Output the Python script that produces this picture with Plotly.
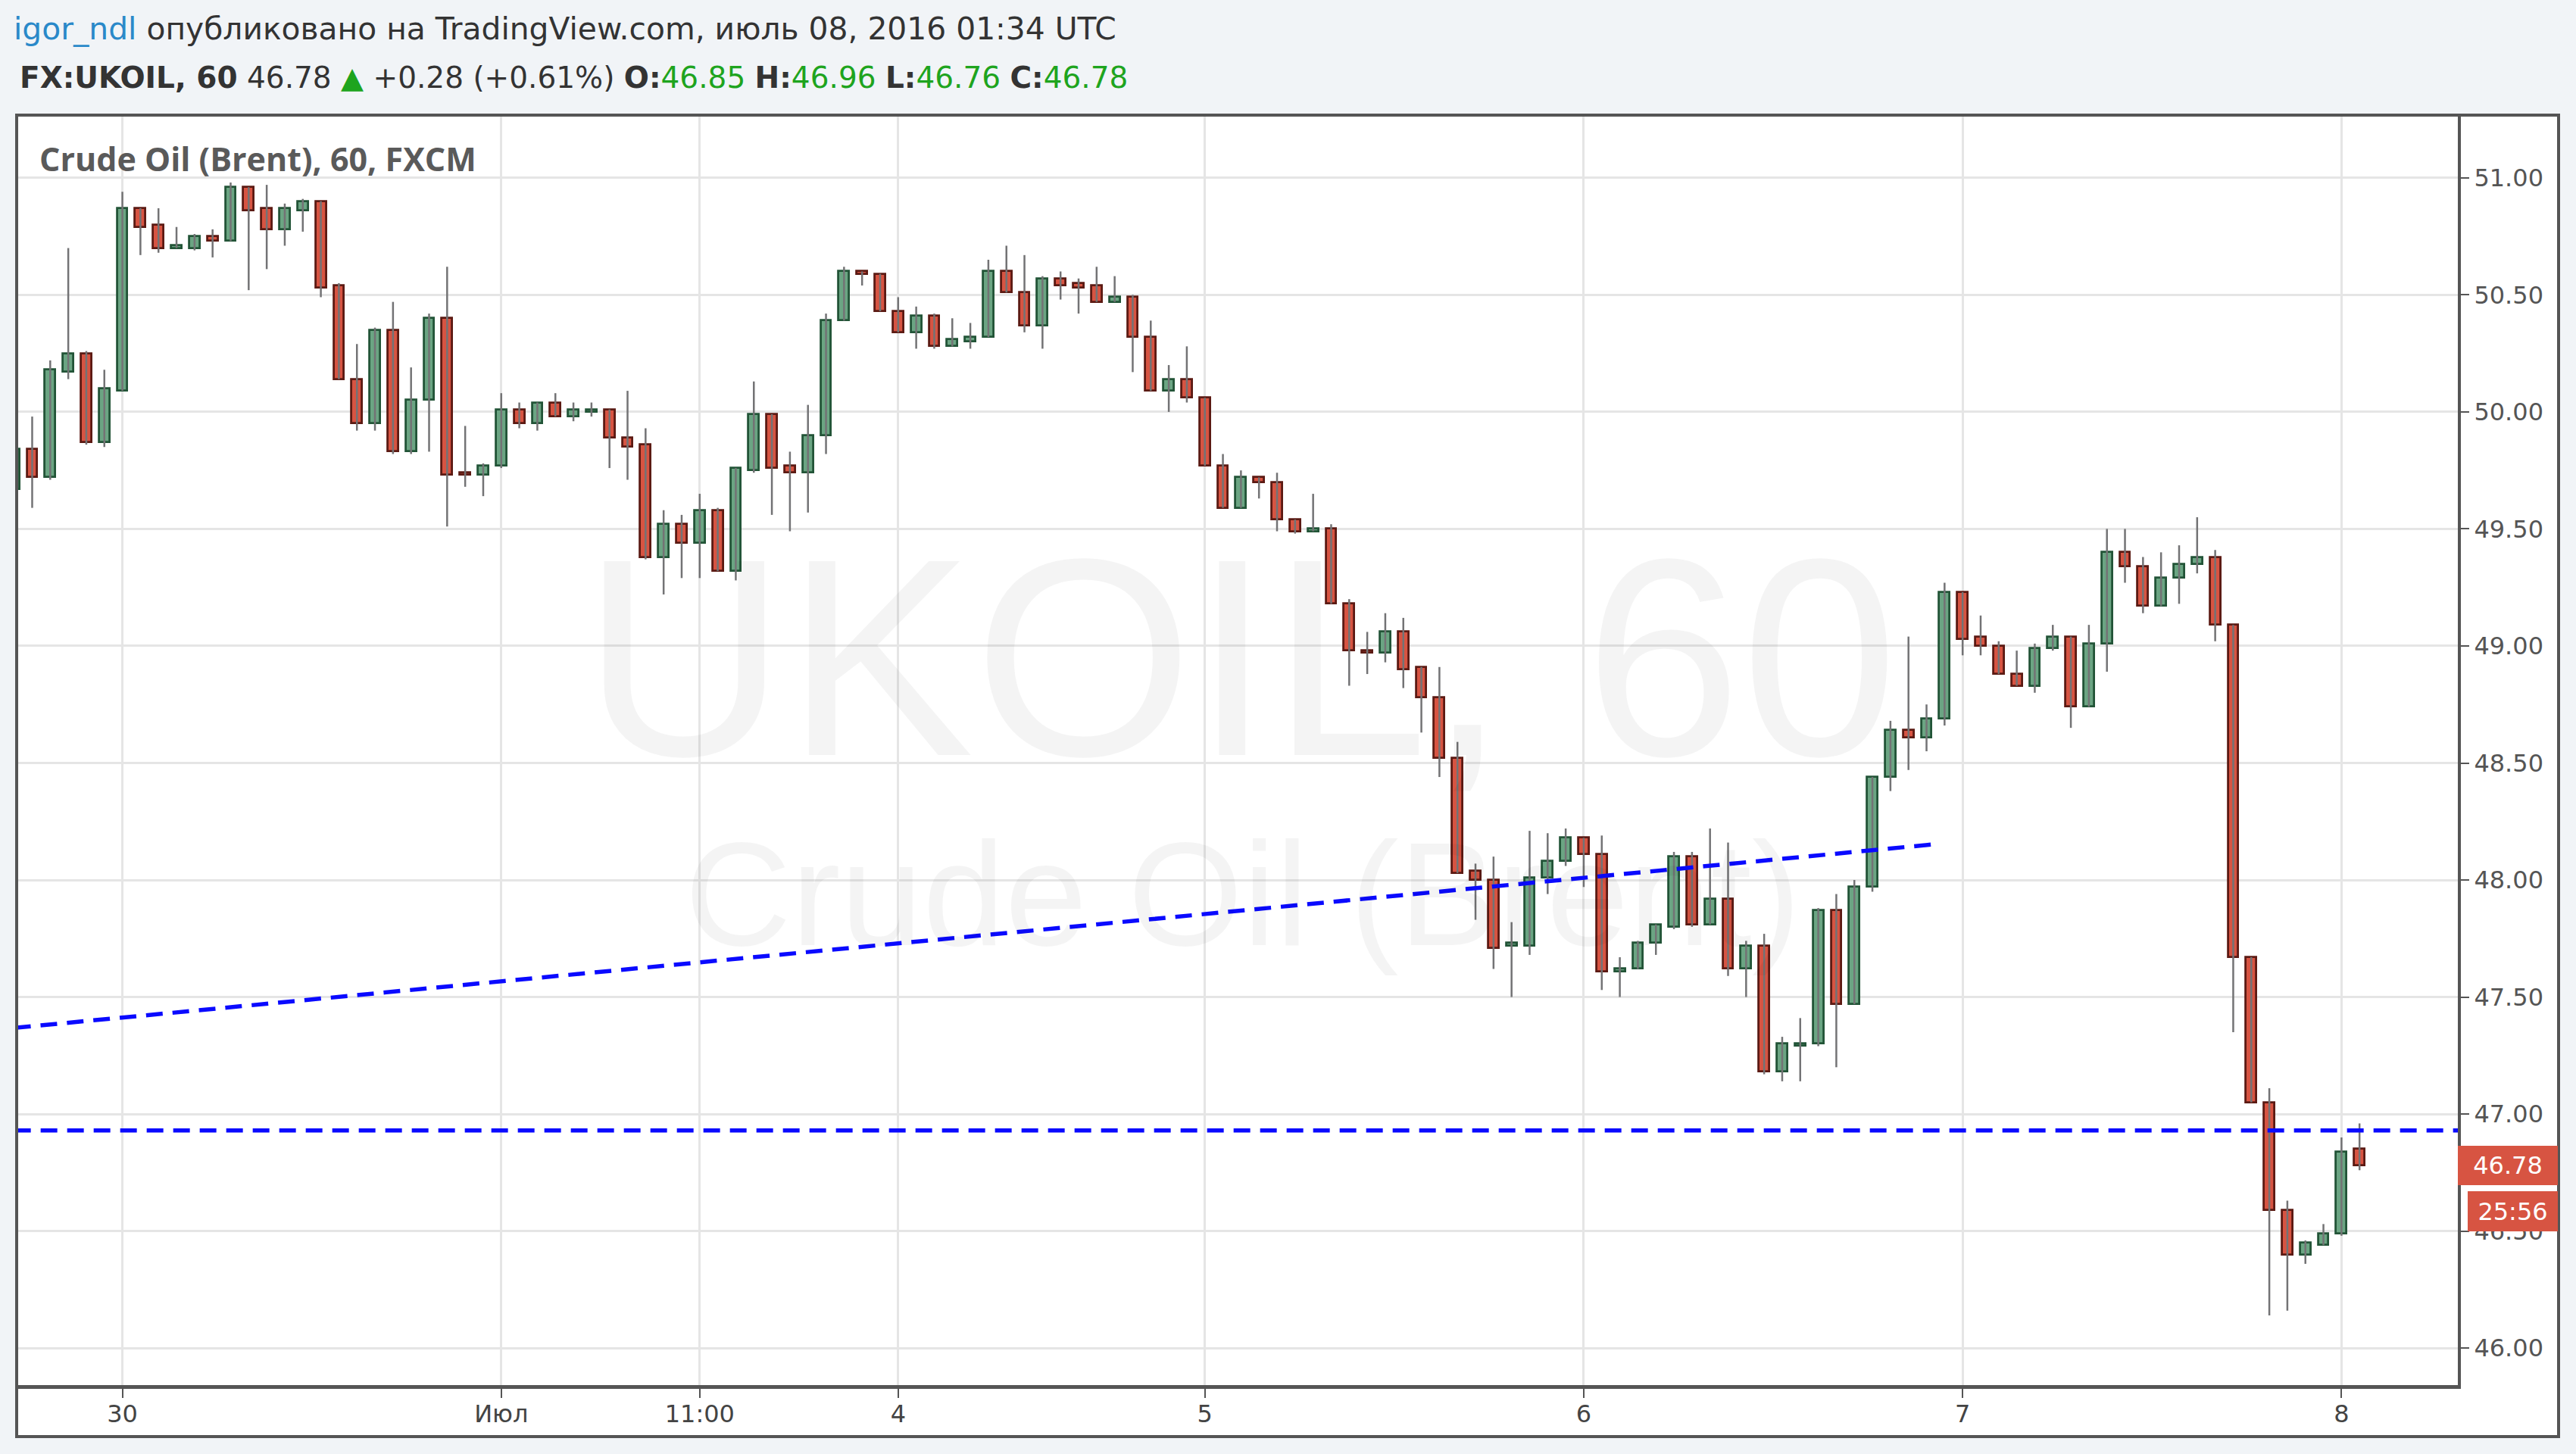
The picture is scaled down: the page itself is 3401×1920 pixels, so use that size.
import plotly.graph_objects as go

# ---------------- data (hourly bars, index 0..130) ----------------
opens = [
    49.67, 49.84, 49.72, 50.17, 50.25, 49.87, 50.09, 50.87, 50.80, 50.70,
    50.70, 50.75, 50.73, 50.96, 50.87, 50.78, 50.86, 50.90, 50.54, 50.14,
    49.95, 50.35, 49.83, 50.05, 50.40, 49.74, 49.73, 49.77, 50.01, 49.95,
    50.04, 49.98, 50.00, 50.01, 49.89, 49.86, 49.38, 49.52, 49.44, 49.58,
    49.32, 49.75, 49.99, 49.77, 49.74, 49.90, 50.39, 50.60, 50.59, 50.43,
    50.34, 50.41, 50.28, 50.30, 50.32, 50.60, 50.51, 50.37, 50.57, 50.55,
    50.54, 50.47, 50.49, 50.32, 50.09, 50.14, 50.06, 49.77, 49.59, 49.72,
    49.70, 49.54, 49.49, 49.50, 49.18, 48.98, 48.97, 49.06, 48.91, 48.78,
    48.52, 48.04, 48.00, 47.72, 47.72, 48.01, 48.08, 48.18, 48.11, 47.61,
    47.62, 47.73, 47.80, 48.10, 47.81, 47.92, 47.62, 47.72, 47.18, 47.29,
    47.30, 47.87, 47.47, 47.97, 48.44, 48.64, 48.61, 48.69, 49.23, 49.04,
    49.00, 48.88, 48.83, 48.99, 49.04, 48.74, 49.01, 49.40, 49.34, 49.17,
    49.29, 49.35, 49.38, 49.09, 47.67, 47.05, 46.59, 46.40, 46.44, 46.49,
    46.85]
highs = [
    49.86, 49.98, 50.22, 50.70, 50.26, 50.18, 50.94, 50.87, 50.87, 50.79,
    50.76, 50.78, 50.98, 50.96, 50.97, 50.89, 50.91, 50.90, 50.55, 50.29,
    50.36, 50.47, 50.19, 50.42, 50.62, 49.94, 49.78, 50.08, 50.04, 50.04,
    50.08, 50.04, 50.04, 50.01, 50.09, 49.93, 49.58, 49.56, 49.65, 49.59,
    49.76, 50.13, 49.99, 49.83, 50.03, 50.42, 50.62, 50.60, 50.59, 50.49,
    50.45, 50.42, 50.40, 50.38, 50.65, 50.71, 50.67, 50.58, 50.60, 50.57,
    50.62, 50.58, 50.50, 50.39, 50.20, 50.28, 50.06, 49.82, 49.75, 49.72,
    49.74, 49.54, 49.65, 49.52, 49.20, 49.06, 49.14, 49.12, 48.91, 48.91,
    48.59, 48.07, 48.10, 47.82, 48.21, 48.20, 48.22, 48.18, 48.19, 47.67,
    47.74, 47.81, 48.12, 48.12, 48.22, 48.16, 47.74, 47.77, 47.33, 47.41,
    47.88, 47.94, 48.00, 48.44, 48.68, 49.04, 48.75, 49.27, 49.23, 49.13,
    49.02, 48.98, 49.01, 49.09, 49.04, 49.09, 49.50, 49.50, 49.38, 49.40,
    49.43, 49.55, 49.41, 49.09, 47.67, 47.11, 46.63, 46.46, 46.53, 46.90,
    46.96]
lows = [
    49.62, 49.59, 49.71, 50.14, 49.86, 49.85, 50.09, 50.67, 50.68, 50.70,
    50.69, 50.66, 50.73, 50.52, 50.61, 50.71, 50.77, 50.49, 50.14, 49.92,
    49.92, 49.82, 49.82, 49.83, 49.51, 49.68, 49.64, 49.76, 49.93, 49.92,
    49.98, 49.96, 49.98, 49.76, 49.71, 49.37, 49.22, 49.29, 49.29, 49.32,
    49.28, 49.74, 49.56, 49.49, 49.57, 49.82, 50.39, 50.54, 50.43, 50.34,
    50.27, 50.27, 50.28, 50.27, 50.32, 50.51, 50.34, 50.27, 50.48, 50.42,
    50.47, 50.47, 50.17, 50.09, 50.00, 50.04, 49.77, 49.59, 49.59, 49.63,
    49.49, 49.48, 49.49, 49.18, 48.83, 48.88, 48.93, 48.82, 48.63, 48.44,
    48.03, 47.83, 47.62, 47.50, 47.68, 47.94, 48.06, 47.97, 47.53, 47.50,
    47.62, 47.68, 47.79, 47.80, 47.81, 47.59, 47.50, 47.17, 47.14, 47.14,
    47.29, 47.20, 47.47, 47.95, 48.38, 48.47, 48.55, 48.66, 48.96, 48.96,
    48.88, 48.83, 48.80, 48.98, 48.65, 48.74, 48.89, 49.27, 49.14, 49.17,
    49.18, 49.31, 49.02, 47.35, 47.05, 46.14, 46.16, 46.36, 46.44, 46.48,
    46.76]
closes = [
    49.84, 49.72, 50.18, 50.25, 49.87, 50.10, 50.87, 50.79, 50.70, 50.71,
    50.75, 50.73, 50.96, 50.86, 50.78, 50.87, 50.90, 50.53, 50.14, 49.95,
    50.35, 49.83, 50.05, 50.40, 49.73, 49.73, 49.77, 50.01, 49.95, 50.04,
    49.98, 50.01, 50.01, 49.89, 49.85, 49.38, 49.52, 49.44, 49.58, 49.32,
    49.76, 49.99, 49.76, 49.74, 49.90, 50.39, 50.60, 50.59, 50.43, 50.34,
    50.41, 50.28, 50.31, 50.32, 50.60, 50.51, 50.37, 50.57, 50.54, 50.53,
    50.47, 50.49, 50.32, 50.09, 50.14, 50.06, 49.77, 49.59, 49.72, 49.70,
    49.54, 49.49, 49.50, 49.18, 48.98, 48.97, 49.06, 48.90, 48.78, 48.52,
    48.03, 48.00, 47.71, 47.73, 48.01, 48.08, 48.18, 48.11, 47.61, 47.62,
    47.73, 47.81, 48.10, 47.81, 47.92, 47.62, 47.72, 47.18, 47.30, 47.30,
    47.87, 47.47, 47.97, 48.44, 48.64, 48.61, 48.69, 49.23, 49.03, 49.00,
    48.88, 48.83, 48.99, 49.04, 48.74, 49.01, 49.40, 49.34, 49.17, 49.29,
    49.35, 49.38, 49.09, 47.67, 47.05, 46.59, 46.40, 46.45, 46.49, 46.84,
    46.78]
assert len(opens) == len(highs) == len(lows) == len(closes) == 131

# x-axis labels (bar index where each label sits)
tick_bars = [6, 27, 38, 49, 66, 87, 108, 129]
tick_text = ["30", "Июл", "11:00", "4", "5", "6", "7", "8"]

# price axis ticks
price_ticks = [46.0, 46.5, 47.0, 47.5, 48.0, 48.5, 49.0, 49.5, 50.0, 50.5, 51.0]

# drawn lines (bar index / price)
trend_x = [0.0, 106.75]
trend_y = [47.368, 48.155]
level_price = 46.93
level_x = [0.0, 136.0]

# header info
author = "igor_ndl"
published = "опубликовано на TradingView.com, июль 08, 2016 01:34 UTC"
symbol = "FX:UKOIL, 60"
change_txt = "+0.28 (+0.61%)"
pane_title = "Crude Oil (Brent), 60, FXCM"
countdown = "25:56"

# ---------------- styling ----------------
UP_FILL, UP_LINE = "#6ba583", "#225437"
DN_FILL, DN_LINE = "#d75442", "#5b1a13"
WICK = "#737375"
GRID = "#e5e5e5"
FRAME = "#555555"
BG = "#f1f4f7"
GREEN_TXT = "#1ea41e"
AXFONT = "DejaVu Sans"

n = len(opens)
idx = list(range(n))

# wicks
wx, wy = [], []
for i in idx:
    wx += [i, i, None]
    wy += [lows[i], highs[i], None]

up = [i for i in idx if closes[i] >= opens[i]]
dn = [i for i in idx if closes[i] < opens[i]]

def body(ids):
    base = [min(opens[i], closes[i]) for i in ids]
    h = [max(abs(closes[i] - opens[i]), 0.004) for i in ids]
    return base, h

fig = go.Figure()
fig.add_trace(go.Scatter(x=wx, y=wy, mode="lines",
                         line=dict(color=WICK, width=2.5),
                         hoverinfo="skip", showlegend=False))
ub, uh = body(up)
fig.add_trace(go.Bar(x=up, y=uh, base=ub, width=0.58,
                     marker=dict(color=UP_FILL, line=dict(color=UP_LINE, width=2.8)),
                     hoverinfo="skip", showlegend=False))
db, dh = body(dn)
fig.add_trace(go.Bar(x=dn, y=dh, base=db, width=0.58,
                     marker=dict(color=DN_FILL, line=dict(color=DN_LINE, width=2.8)),
                     hoverinfo="skip", showlegend=False))
# drawn dashed lines
fig.add_trace(go.Scatter(x=trend_x, y=trend_y, mode="lines",
                         line=dict(color="#0a0aff", width=5.5, dash="22px,13px"),
                         hoverinfo="skip", showlegend=False))
fig.add_trace(go.Scatter(x=level_x, y=[level_price, level_price], mode="lines",
                         line=dict(color="#0a0aff", width=5.5, dash="22px,13px"),
                         hoverinfo="skip", showlegend=False))

W, H = 3401, 1920
L, R, T, B = 22, 3245, 152, 1829
pw, ph = R - L, B - T

def px_x(px):
    return (px - L) / pw

def px_y(py):
    return (B - py) / ph

shapes = [
    # white panel
    dict(type="rect", xref="paper", yref="paper", x0=px_x(22), x1=px_x(3378),
         y0=px_y(1897), y1=px_y(152), fillcolor="white", line=dict(width=0),
         layer="below"),
    # outer frame
    dict(type="rect", xref="paper", yref="paper", x0=px_x(22), x1=px_x(3378),
         y0=px_y(1897), y1=px_y(152), line=dict(color=FRAME, width=4),
         layer="above"),
]

last = n - 1
annotations = [
    dict(xref="paper", yref="paper", x=px_x(16), y=px_y(38), xanchor="left", yanchor="middle",
         text=f"<span style='color:#2a89c9'>{author}</span> {published}",
         showarrow=False, font=dict(family=AXFONT, size=40.8, color="#333333")),
    dict(xref="paper", yref="paper", x=px_x(24), y=px_y(102), xanchor="left", yanchor="middle",
         text=(f"<b>{symbol}</b> {closes[last]:.2f} <span style='color:{GREEN_TXT}'>▲</span> {change_txt} "
               f"<b>O:</b><span style='color:{GREEN_TXT}'>{opens[last]:.2f}</span> "
               f"<b>H:</b><span style='color:{GREEN_TXT}'>{highs[last]:.2f}</span> "
               f"<b>L:</b><span style='color:{GREEN_TXT}'>{lows[last]:.2f}</span> "
               f"<b>C:</b><span style='color:{GREEN_TXT}'>{closes[last]:.2f}</span>"),
         showarrow=False, font=dict(family=AXFONT, size=39, color="#333333")),
    dict(xref="paper", yref="paper", x=px_x(50), y=px_y(210), xanchor="left", yanchor="middle",
         text=f"<b>{pane_title}</b>", showarrow=False,
         font=dict(family="Open Sans", size=43, color="#5a5a5a")),
    # watermark
    dict(xref="paper", yref="paper", x=px_x(1637), y=px_y(868), xanchor="center", yanchor="middle",
         text="UKOIL, 60", showarrow=False,
         font=dict(family="Liberation Sans", size=372, color="rgba(0,0,0,0.045)")),
    dict(xref="paper", yref="paper", x=px_x(1641), y=px_y(1180), xanchor="center", yanchor="middle",
         text="Crude Oil (Brent)", showarrow=False,
         font=dict(family="Liberation Sans", size=195, color="rgba(0,0,0,0.045)")),
    # last price label
    dict(xref="paper", yref="y", x=1.0, y=closes[last], xanchor="left", yanchor="middle",
         text=f"{closes[last]:.2f}", showarrow=False, width=132, height=52,
         bgcolor=DN_FILL, borderpad=0, borderwidth=0, align="center",
         font=dict(family=AXFONT, size=32, color="white")),
    dict(xref="paper", yref="y", x=px_x(3258), y=closes[last], yshift=-60,
         xanchor="left", yanchor="middle",
         text=countdown, showarrow=False, width=119, height=53,
         bgcolor=DN_FILL, borderpad=0, borderwidth=0, align="center",
         font=dict(family=AXFONT, size=32, color="white")),
]

fig.update_layout(
    width=W, height=H,
    margin=dict(l=L, r=W - R, t=T, b=H - B, pad=0, autoexpand=False),
    paper_bgcolor=BG, plot_bgcolor="white",
    barmode="overlay", bargap=0, showlegend=False,
    shapes=shapes, annotations=annotations,
    xaxis=dict(range=[0.14, 135.45], tickmode="array", tickvals=tick_bars, ticktext=tick_text,
               showgrid=True, gridcolor=GRID, gridwidth=3, zeroline=False,
               ticks="outside", ticklen=12, tickwidth=2, tickcolor=FRAME,
               ticklabelstandoff=-6,
               showline=True, linecolor=FRAME, linewidth=5,
               tickfont=dict(family=AXFONT, size=32, color="#444444"), fixedrange=True),
    yaxis=dict(side="right", range=[45.842, 51.268], tickmode="array", tickvals=price_ticks,
               tickformat=".2f", showgrid=True, gridcolor=GRID, gridwidth=3, zeroline=False,
               ticks="outside", ticklen=11, tickwidth=2, tickcolor=FRAME,
               showline=True, linecolor=FRAME, linewidth=4,
               tickfont=dict(family=AXFONT, size=32, color="#555555"), fixedrange=True),
)

fig.write_html(
    "out.html",
    config={"displayModeBar": False},
    post_script=f"document.body.style.margin='0';document.body.style.background='{BG}';",
)
